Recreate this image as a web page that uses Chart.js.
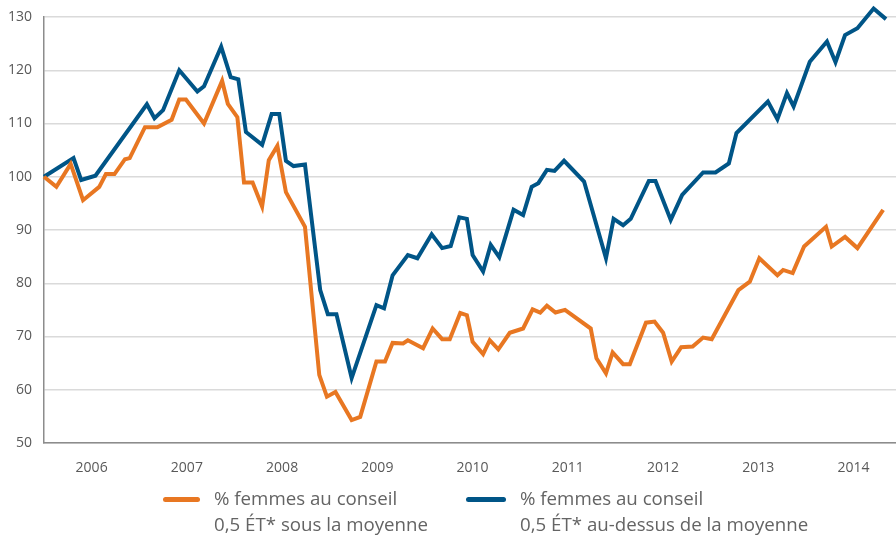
<!DOCTYPE html>
<html>
<head>
<meta charset="utf-8">
<script src="https://cdn.jsdelivr.net/npm/chart.js@4.4.1/dist/chart.umd.min.js"></script>
<style>
html, body { margin: 0; padding: 0; background: #ffffff; }
#wrap { position: relative; width: 896px; height: 537px; overflow: hidden; }
#legend { position: absolute; left: 0; top: 0; width: 896px; height: 537px; pointer-events: none;
  font-family: 'Open Sans', sans-serif; font-size: 18.7px; color: #646464; }
.item { position: absolute; top: 485px; display: flex; align-items: flex-start; }
.swatch { height: 5px; border-radius: 3px; margin-top: 12px; }
.txt { line-height: 26px; white-space: nowrap; }
</style>
</head>
<body>
<div id="wrap">
  <canvas id="c" width="896" height="537"></canvas>
  <div id="legend"></div>
</div>
<script>
// ---- Data ----
const yearLabels = ['2006', '2007', '2008', '2009', '2010', '2011', '2012', '2013', '2014'];

const seriesLabels = [
  ['% femmes au conseil', '0,5 ÉT* sous la moyenne'],
  ['% femmes au conseil', '0,5 ÉT* au-dessus de la moyenne']
];
const seriesColors = ['#E87722', '#005587'];

// Series 1 : 0,5 ÉT sous la moyenne (orange)
const belowX = [2006.00, 2006.13, 2006.28, 2006.41, 2006.58, 2006.65, 2006.74, 2006.85, 2006.90, 2007.06,
  2007.19, 2007.34, 2007.42, 2007.49, 2007.68, 2007.87, 2007.93, 2008.03, 2008.10, 2008.19,
  2008.29, 2008.36, 2008.45, 2008.54, 2008.74, 2008.89, 2008.97, 2009.06, 2009.23, 2009.32,
  2009.49, 2009.58, 2009.66, 2009.77, 2009.82, 2009.98, 2010.08, 2010.18, 2010.26, 2010.37,
  2010.44, 2010.50, 2010.61, 2010.68, 2010.77, 2010.89, 2011.03, 2011.13, 2011.21, 2011.28,
  2011.37, 2011.47, 2011.74, 2011.80, 2011.90, 2011.97, 2012.08, 2012.15, 2012.32, 2012.41,
  2012.50, 2012.59, 2012.69, 2012.81, 2012.92, 2013.01, 2013.29, 2013.41, 2013.51, 2013.70,
  2013.76, 2013.86, 2013.98, 2014.21, 2014.27, 2014.41, 2014.54, 2014.81];
const belowY = [100.0, 98.1, 102.4, 95.6, 98.1, 100.5, 100.5, 103.3, 103.5, 109.3,
  109.3, 110.7, 114.5, 114.5, 110.0, 118.0, 113.7, 111.2, 98.9, 98.9,
  94.4, 103.1, 105.8, 97.1, 90.6, 62.8, 58.7, 59.6, 54.3, 54.9,
  65.3, 65.3, 68.8, 68.7, 69.3, 67.8, 71.5, 69.5, 69.5, 74.4,
  74.0, 69.0, 66.7, 69.3, 67.6, 70.7, 71.5, 75.1, 74.5, 75.8,
  74.5, 75.0, 71.5, 65.9, 63.1, 67.0, 64.8, 64.8, 72.6, 72.8,
  70.7, 65.3, 68.0, 68.1, 69.8, 69.5, 78.7, 80.3, 84.7, 81.5,
  82.5, 81.9, 86.9, 90.6, 86.9, 88.7, 86.6, 93.8];

// Series 2 : 0,5 ÉT au-dessus de la moyenne (blue)
const aboveX = [2006.00, 2006.31, 2006.39, 2006.54, 2007.08, 2007.16, 2007.25, 2007.42, 2007.61, 2007.68,
  2007.86, 2007.96, 2008.04, 2008.12, 2008.29, 2008.39, 2008.47, 2008.54, 2008.62, 2008.74,
  2008.90, 2008.98, 2009.07, 2009.23, 2009.49, 2009.57, 2009.66, 2009.82, 2009.92, 2010.07,
  2010.18, 2010.27, 2010.36, 2010.44, 2010.50, 2010.61, 2010.69, 2010.78, 2010.93, 2011.03,
  2011.12, 2011.19, 2011.28, 2011.36, 2011.46, 2011.67, 2011.90, 2011.98, 2012.08, 2012.16,
  2012.35, 2012.42, 2012.58, 2012.70, 2012.92, 2013.05, 2013.19, 2013.27, 2013.60, 2013.70,
  2013.80, 2013.87, 2014.04, 2014.22, 2014.31, 2014.41, 2014.54, 2014.71, 2014.84];
const aboveY = [100.0, 103.5, 99.4, 100.2, 113.6, 111.0, 112.5, 120.0, 116.0, 117.0,
  124.4, 118.7, 118.3, 108.4, 106.0, 111.8, 111.8, 103.0, 102.0, 102.3,
  78.7, 74.2, 74.2, 62.2, 75.9, 75.3, 81.5, 85.3, 84.7, 89.2,
  86.6, 87.0, 92.4, 92.1, 85.3, 82.2, 87.2, 84.9, 93.8, 92.8,
  98.1, 98.8, 101.3, 101.1, 103.0, 99.1, 84.7, 92.1, 90.9, 92.1,
  99.2, 99.2, 91.9, 96.6, 100.8, 100.8, 102.5, 108.2, 114.1, 110.8,
  115.7, 113.2, 121.6, 125.4, 121.5, 126.6, 127.9, 131.6, 129.6];

const yMin = 50, yMax = 130, yStep = 10;
const xMin = 2006, xMax = 2014.945;

const toPoints = (xs, ys) => xs.map((x, i) => ({ x: x, y: ys[i] }));

const chart = new Chart(document.getElementById('c'), {
  type: 'line',
  data: {
    datasets: [
      { label: seriesLabels[0], data: toPoints(belowX, belowY), borderColor: seriesColors[0],
        backgroundColor: seriesColors[0], borderWidth: 4, pointRadius: 0, tension: 0, clip: false, fill: false },
      { label: seriesLabels[1], data: toPoints(aboveX, aboveY), borderColor: seriesColors[1],
        backgroundColor: seriesColors[1], borderWidth: 4, pointRadius: 0, tension: 0, clip: false, fill: false }
    ]
  },
  options: {
    responsive: false,
    animation: false,
    layout: { padding: { top: 17, right: 0, bottom: 0, left: 0 } },
    plugins: { legend: { display: false }, tooltip: { enabled: false } },
    scales: {
      x: {
        type: 'linear', min: xMin, max: xMax,
        afterBuildTicks: (s) => { s.ticks = yearLabels.map(l => ({ value: Number(l) + 0.5 })); },
        afterFit: (s) => { s.height = 94; s.paddingLeft = 0; s.paddingRight = 0; },
        grid: { display: false },
        border: { display: true, color: '#8c8c8c', width: 1.5 },
        ticks: {
          autoSkip: false, maxRotation: 0, padding: 9, color: '#595959',
          font: { family: "'Open Sans', sans-serif", size: 14 },
          callback: (v) => yearLabels[Math.floor(v) - 2006] || ''
        }
      },
      y: {
        min: yMin, max: yMax,
        afterFit: (s) => { s.width = 44; s.paddingTop = 0; s.paddingBottom = 0; },
        grid: { color: '#dadada', lineWidth: 1.5, drawTicks: false },
        border: { display: true, color: '#8c8c8c', width: 1.5 },
        ticks: { stepSize: yStep, padding: 12, color: '#595959',
          font: { family: "'Open Sans', sans-serif", size: 14 } }
      }
    }
  }
});

// HTML legend built from the datasets
const legendLefts = [163, 466];
const swatchWidths = [37, 40];
const legendEl = document.getElementById('legend');
chart.data.datasets.forEach((ds, i) => {
  const item = document.createElement('div');
  item.className = 'item';
  item.style.left = legendLefts[i] + 'px';
  const sw = document.createElement('div');
  sw.className = 'swatch';
  sw.style.width = swatchWidths[i] + 'px';
  sw.style.marginRight = '14px';
  sw.style.background = ds.borderColor;
  const tx = document.createElement('div');
  tx.className = 'txt';
  tx.innerHTML = ds.label.map(s => s.replace(/&/g, '&amp;').replace(/</g, '&lt;')).join('<br>');
  item.appendChild(sw);
  item.appendChild(tx);
  legendEl.appendChild(item);
});
</script>
</body>
</html>
